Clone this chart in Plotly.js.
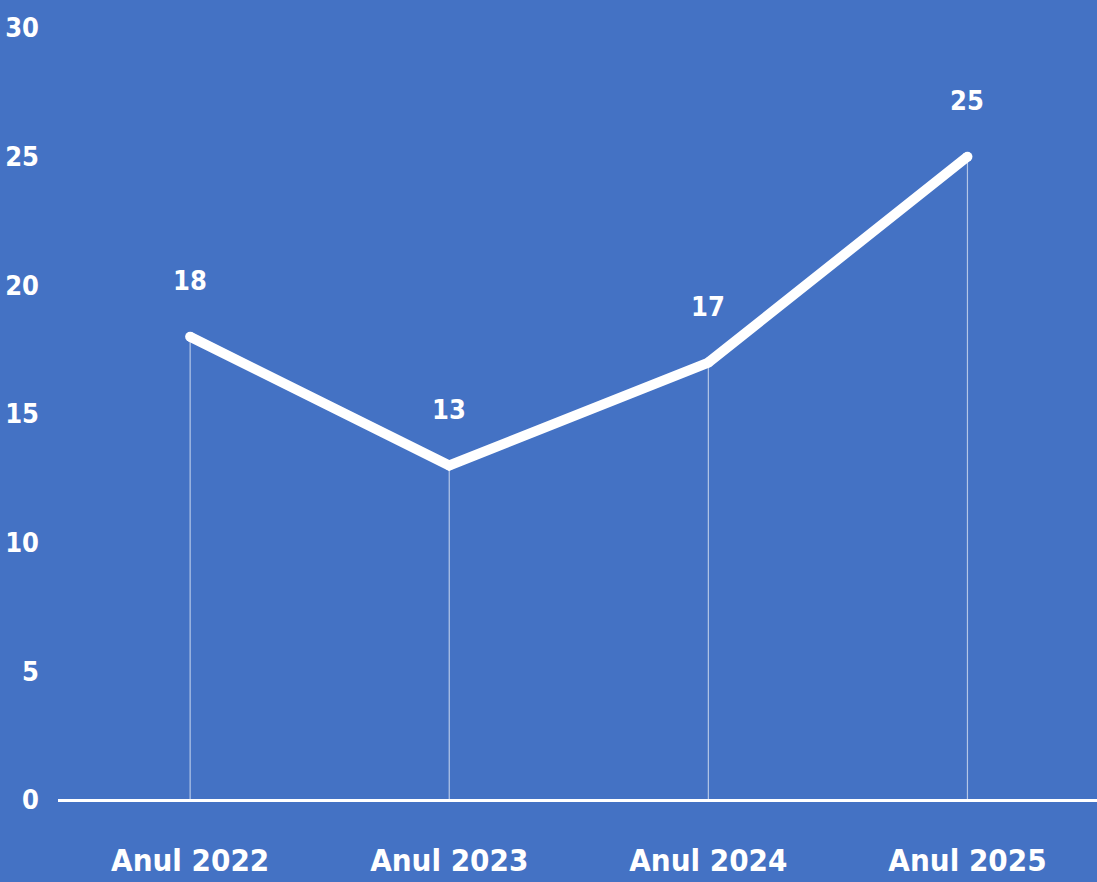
<!DOCTYPE html>
<html>
<head>
<meta charset="utf-8">
<script src="https://cdn.plot.ly/plotly-3.0.1.min.js"></script>
<style>
html,body{margin:0;padding:0;background:#4472C4;}
#chart{width:1097px;height:882px;}
</style>
</head>
<body>
<div id="chart"></div>
<script>
const categories = ["Anul 2022", "Anul 2023", "Anul 2024", "Anul 2025"];
const values = [18, 13, 17, 25];
const yTicks = [0, 5, 10, 15, 20, 25, 30];

const FONT = "DejaVu Sans Condensed, DejaVu Sans, sans-serif";
const BG = "#4472C4";

const dropLines = {
  x: categories,
  y: values,
  type: "scatter",
  mode: "markers",
  marker: {size: 0.1, color: "rgba(0,0,0,0)"},
  error_y: {
    type: "data",
    symmetric: false,
    array: values.map(() => 0),
    arrayminus: values,
    width: 0,
    thickness: 1.2,
    color: "rgba(255,255,255,0.6)"
  },
  hoverinfo: "skip",
  showlegend: false
};

const mainLine = {
  x: categories,
  y: values,
  type: "scatter",
  mode: "lines+markers",
  line: {color: "#FFFFFF", width: 10},
  marker: {color: "#FFFFFF", size: 10},
  showlegend: false
};

const annotations = categories.map((c, i) => ({
  x: c,
  y: values[i],
  text: String(values[i]),
  showarrow: false,
  yshift: 56,
  font: {family: FONT, size: 27, color: "#FFFFFF", weight: "bold"}
}));

const layout = {
  width: 1097,
  height: 882,
  paper_bgcolor: BG,
  plot_bgcolor: BG,
  margin: {l: 58, r: 0, t: 28, b: 82},
  showlegend: false,
  xaxis: {
    type: "category",
    range: [-0.51, 3.5],
    showgrid: false,
    zeroline: false,
    showline: false,
    ticks: "",
    tickfont: {family: FONT, size: 31, color: "#FFFFFF", weight: "bold"},
    ticklabelstandoff: 39
  },
  yaxis: {
    range: [0, 30],
    tickvals: yTicks,
    ticktext: yTicks.map(String),
    showgrid: false,
    zeroline: true,
    zerolinecolor: "#FFFFFF",
    zerolinewidth: 3,
    showline: false,
    ticks: "",
    tickfont: {family: FONT, size: 27, color: "#FFFFFF", weight: "bold"},
    ticklabelstandoff: 18
  },
  annotations: annotations
};

Plotly.newPlot("chart", [dropLines, mainLine], layout, {displayModeBar: false, staticPlot: true});
</script>
</body>
</html>
